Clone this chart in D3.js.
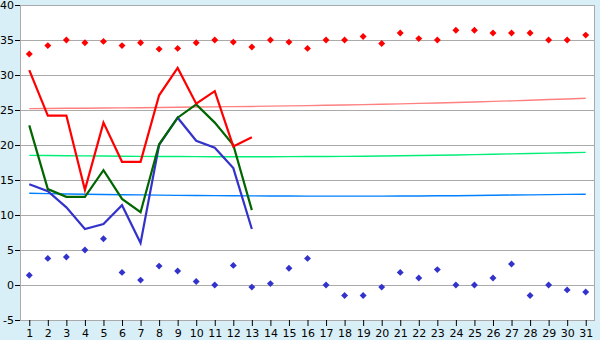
<!DOCTYPE html>
<html>
<head>
<meta charset="utf-8">
<script src="https://cdn.jsdelivr.net/npm/d3@7"></script>
<style>
  body { margin: 0; background: #d9eff7; }
  svg { display: block; }
  .tick text { font-family: "DejaVu Sans", Verdana, sans-serif; font-size: 11px; fill: #000; }
</style>
</head>
<body>
<script>
// Days of the month
const days = d3.range(1, 32);

// Daily max / mean / min (first 13 days only)
const maxTemp  = [30.7, 24.2, 24.2, 13.6, 23.2, 17.6, 17.6, 27.1, 31.0, 25.9, 27.7, 19.8, 21.1];
const meanTemp = [22.8, 13.7, 12.6, 12.6, 16.4, 12.3, 10.4, 20.1, 23.9, 25.8, 23.2, 20.0, 10.7];
const minTemp  = [14.4, 13.4, 11.1, 8.0, 8.7, 11.4, 6.0, 20.0, 23.9, 20.6, 19.6, 16.7, 8.0];

// Record highs / lows for each day
const recordHigh = [33.0, 34.2, 35.0, 34.6, 34.8, 34.2, 34.6, 33.7, 33.8, 34.6,
                    35.0, 34.7, 34.0, 35.0, 34.7, 33.8, 35.0, 35.0, 35.5, 34.5,
                    36.0, 35.2, 35.0, 36.4, 36.4, 36.0, 36.0, 36.0, 35.0, 35.0, 35.7];
const recordLow  = [1.4, 3.8, 4.0, 5.0, 6.6, 1.8, 0.7, 2.7, 2.0, 0.5,
                    0.0, 2.8, -0.3, 0.2, 2.4, 3.8, 0.0, -1.5, -1.5, -0.3,
                    1.8, 1.0, 2.2, 0.0, 0.0, 1.0, 3.0, -1.5, 0.0, -0.7, -1.0];

// Long-term average curves
const avgMax  = [25.20, 25.22, 25.24, 25.26, 25.28, 25.30, 25.33, 25.36, 25.39, 25.42,
                 25.45, 25.48, 25.51, 25.55, 25.59, 25.63, 25.67, 25.72, 25.77, 25.82,
                 25.88, 25.94, 26.00, 26.07, 26.15, 26.23, 26.31, 26.40, 26.49, 26.58, 26.67];
const avgMean = [18.52, 18.50, 18.47, 18.44, 18.42, 18.40, 18.38, 18.36, 18.35, 18.34,
                 18.33, 18.33, 18.33, 18.33, 18.34, 18.35, 18.36, 18.38, 18.40, 18.43,
                 18.46, 18.50, 18.54, 18.58, 18.63, 18.68, 18.73, 18.79, 18.84, 18.90, 18.95];
const avgMin  = [13.10, 13.05, 13.00, 12.97, 12.93, 12.90, 12.87, 12.84, 12.81, 12.79,
                 12.77, 12.75, 12.73, 12.72, 12.71, 12.70, 12.70, 12.70, 12.70, 12.70,
                 12.71, 12.72, 12.74, 12.76, 12.79, 12.82, 12.85, 12.88, 12.91, 12.94, 12.97];

const yTicks = d3.range(-5, 41, 5);

const width = 600, height = 340;
const margin = { top: 5, right: 5, bottom: 20, left: 20 };
const plotW = width - margin.left - margin.right,
      plotH = height - margin.top - margin.bottom;

const svg = d3.select('body').append('svg')
    .attr('width', width)
    .attr('height', height);

const g = svg.append('g')
    .attr('transform', 'translate(' + margin.left + ',' + margin.top + ')');

const x = d3.scalePoint().domain(days).range([0, plotW]).padding(0.5);
const y = d3.scaleLinear().domain([-5, 40]).range([plotH, 0]);

// Plot background
g.append('rect')
    .attr('width', plotW)
    .attr('height', plotH)
    .attr('fill', '#fff');

// Grid lines
g.selectAll('.grid')
  .data(yTicks)
  .enter().append('line')
    .attr('x1', 0).attr('x2', plotW)
    .attr('y1', d => Math.round(y(d)) + 0.5)
    .attr('y2', d => Math.round(y(d)) + 0.5)
    .attr('stroke', '#aaa');

// Frame
g.append('rect')
    .attr('x', 0.5).attr('y', 0.5)
    .attr('width', plotW - 1).attr('height', plotH)
    .attr('fill', 'none')
    .attr('stroke', '#aaa');

// Axes
const xAxis = g.append('g')
    .attr('transform', 'translate(0,' + plotH + ')')
    .call(d3.axisBottom(x).tickSize(6).tickPadding(3));
const yAxis = g.append('g')
    .call(d3.axisLeft(y).tickValues(yTicks).tickSize(5).tickPadding(1).tickFormat(d => String(d)));
[xAxis, yAxis].forEach(a => {
  a.select('.domain').remove();
  a.selectAll('.tick line').attr('stroke', '#000');
});

// Average curves
const line = d3.line().x((d, i) => x(days[i])).y(d => y(d));
[[avgMax, '#ff8080'], [avgMean, '#00ee77'], [avgMin, '#0080ff']].forEach(([data, color]) => {
  g.append('path')
      .datum(data)
      .attr('d', line)
      .attr('fill', 'none')
      .attr('stroke', color)
      .attr('stroke-width', 1.4);
});

// Daily lines
[[minTemp, '#3333cc'], [meanTemp, '#006600'], [maxTemp, '#ff0000']].forEach(([data, color]) => {
  g.append('path')
      .datum(data)
      .attr('d', line)
      .attr('fill', 'none')
      .attr('stroke', color)
      .attr('stroke-width', 2.2);
});

// Record markers
const diamond = d3.symbol().type(d3.symbolSquare).size(24);
[[recordHigh, '#ff0000'], [recordLow, '#3333cc']].forEach(([data, color]) => {
  g.selectAll(null)
    .data(data)
    .enter().append('path')
      .attr('d', diamond)
      .attr('transform', (d, i) => 'translate(' + x(days[i]) + ',' + y(d) + ') rotate(45)')
      .attr('fill', color);
});
</script>
</body>
</html>
